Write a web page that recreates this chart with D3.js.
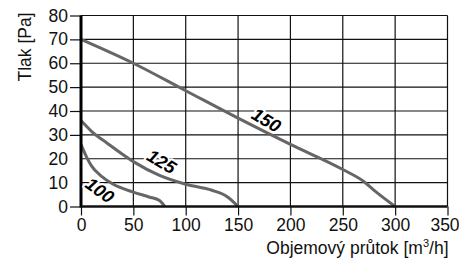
<!DOCTYPE html>
<html>
<head>
<meta charset="utf-8">
<script src="https://cdn.jsdelivr.net/npm/d3@7"></script>
<style>
    body { margin: 0; background: #fff; }
    text { font-family: "Liberation Sans", Arial, sans-serif; }
</style>
</head>
<body>
<div id="chart"></div>
<script>

// chart data
const xTicks = [0, 50, 100, 150, 200, 250, 300, 350];
const yTicks = [0, 10, 20, 30, 40, 50, 60, 70, 80];

const curve150 = [[0, 70], [50, 60], [100, 48.5], [150, 37], [200, 26], [250, 15.5], [270, 10.5], [282, 6], [300, 0]];
const curve125 = [[0, 36], [10, 31.5], [25, 26.5], [50, 18.8], [75, 13], [100, 9.3], [125, 6.8], [140, 4], [150, 0]];
const curve100 = [[0, 26], [5, 21], [10, 17], [20, 12.5], [30, 9.5], [50, 6], [65, 4], [75, 2.5], [80, 0]];

const curveLabels = ["150", "125", "100"];
const labelPos = [[177, 36.2], [77, 18.8], [18, 6.8]];
const labelAngle = [31, 31, 36];

const margin = {top: 15.5, right: 11.5, bottom: 52.5, left: 81};
const width = 459 - margin.left - margin.right;
const height = 259 - margin.top - margin.bottom;

const svg = d3.select("#chart").append("svg")
    .attr("width", 459)
    .attr("height", 259)
    .append("g")
    .attr("transform", "translate(" + margin.left + "," + margin.top + ")");

// scales
const x = d3.scaleLinear().domain([0, 350]).range([0, width]);
const y = d3.scaleLinear().domain([0, 80]).range([height, 0]);

// grid
svg.append("g")
    .selectAll("line.vg")
    .data(xTicks.filter(d => d > 0))
    .join("line")
    .attr("x1", d => x(d)).attr("x2", d => x(d))
    .attr("y1", 0).attr("y2", height)
    .attr("stroke", "#111").attr("stroke-width", 1.2);

svg.append("g")
    .selectAll("line.hg")
    .data(yTicks.filter(d => d > 0))
    .join("line")
    .attr("x1", 0).attr("x2", width)
    .attr("y1", d => y(d)).attr("y2", d => y(d))
    .attr("stroke", "#111").attr("stroke-width", 1.2);

// axes
const xAxis = d3.axisBottom(x).tickValues(xTicks).tickSize(9).tickPadding(3);
const yAxis = d3.axisLeft(y).tickValues(yTicks).tickSize(11).tickPadding(2);

const gx = svg.append("g")
    .attr("transform", "translate(0," + height + ")")
    .call(xAxis);
gx.select(".domain").remove();
gx.selectAll(".tick line").attr("stroke", "#111").attr("stroke-width", 1.2);
gx.selectAll("text")
    .attr("font-size", 17.5).attr("fill", "#111")
    .attr("dx", d => d === 350 ? -3 : 0);

const gy = svg.append("g").call(yAxis);
gy.select(".domain").remove();
gy.selectAll(".tick line")
    .attr("stroke", "#111").attr("stroke-width", 1.2)
    .attr("display", d => (d === 10 || d === 20) ? "none" : null);
gy.selectAll("text").attr("font-size", 17.5).attr("fill", "#111");

// curves
const line = d3.line()
    .x(d => x(d[0]))
    .y(d => y(d[1]))
    .curve(d3.curveMonotoneX);

svg.selectAll("path.curve")
    .data([curve150, curve125, curve100])
    .join("path")
    .attr("class", "curve")
    .attr("d", line)
    .attr("fill", "none")
    .attr("stroke", "#666")
    .attr("stroke-width", 3);

// thick axis lines
svg.append("line")
    .attr("x1", 0).attr("x2", 0).attr("y1", 0).attr("y2", height + 1)
    .attr("stroke", "#000").attr("stroke-width", 3);
svg.append("line")
    .attr("x1", 0).attr("x2", width).attr("y1", height).attr("y2", height)
    .attr("stroke", "#111").attr("stroke-width", 2.5);

// curve labels
curveLabels.forEach((t, i) => {
    const g = svg.append("g")
        .attr("transform", "translate(" + x(labelPos[i][0]) + "," + y(labelPos[i][1]) + ") rotate(" + labelAngle[i] + ")");
    g.append("text")
        .attr("text-anchor", "middle").attr("dy", "0.35em")
        .attr("font-size", 18).attr("font-weight", "bold").attr("font-style", "italic")
        .attr("stroke", "#fff").attr("stroke-width", 4).attr("stroke-linejoin", "round")
        .attr("fill", "#fff")
        .text(t);
    g.append("text")
        .attr("text-anchor", "middle").attr("dy", "0.35em")
        .attr("font-size", 18).attr("font-weight", "bold").attr("font-style", "italic")
        .attr("fill", "#000")
        .text(t);
});

// axis titles
svg.append("text")
    .attr("transform", "translate(-56,31.5) rotate(-90)")
    .attr("text-anchor", "middle").attr("dy", "0.35em")
    .attr("font-size", 17.5).attr("fill", "#111")
    .text("Tlak [Pa]");

const xt = svg.append("text")
    .attr("x", width + 1).attr("y", height + 47.5)
    .attr("text-anchor", "end")
    .attr("font-size", 17.5).attr("fill", "#111");
xt.append("tspan").text("Objemový průtok [m");
xt.append("tspan").attr("dy", -7).attr("font-size", 11).text("3");
xt.append("tspan").attr("dy", 7).text("/h]");

</script>
</body>
</html>
